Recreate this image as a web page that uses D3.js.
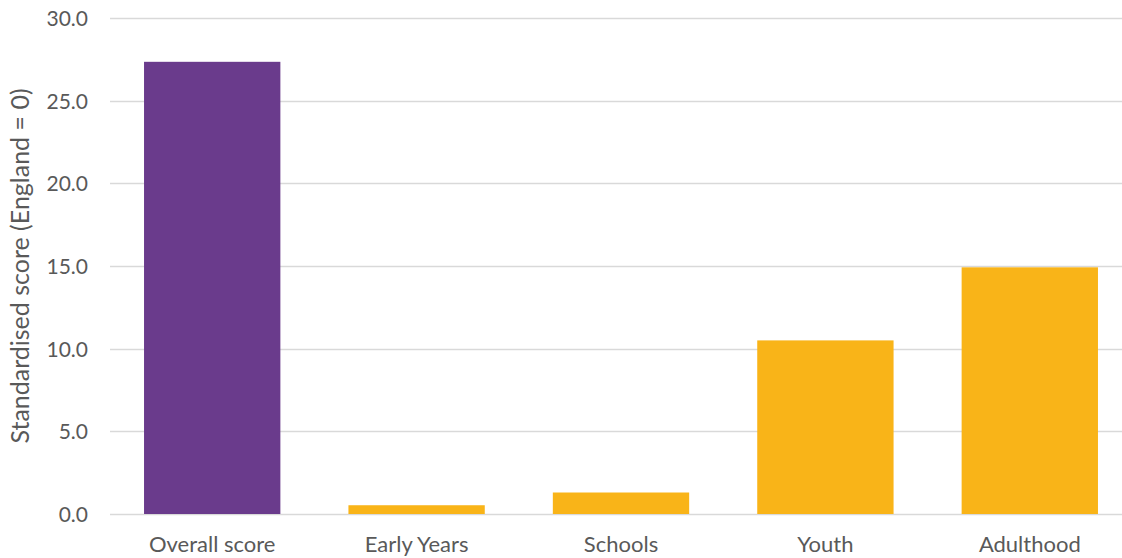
<!DOCTYPE html>
<html>
<head>
<meta charset="utf-8">
<script src="https://cdn.jsdelivr.net/npm/d3@7"></script>
<style>
  body { margin: 0; background: #fff; }
  text { font-family: Lato, "Noto Sans", sans-serif; fill: #595959; }
</style>
</head>
<body>
<div id="graph"></div>
<script>
var categories = ['Overall score', 'Early Years', 'Schools', 'Youth', 'Adulthood']
var scores = [27.35, 0.53, 1.3, 10.5, 14.92]
var barColors = ['#6a3b8c', '#f9b418', '#f9b418', '#f9b418', '#f9b418']
var yTicks = [0, 5, 10, 15, 20, 25, 30]

var width = 1122, height = 558
var m = {top: 18, right: -10, bottom: 44, left: 110}

var svg = d3.select('#graph').append('svg')
    .attr('width', width)
    .attr('height', height)

var x = d3.scaleBand()
    .domain(categories)
    .range([m.left, width - m.right])
    .paddingInner(0.333)
    .paddingOuter(0.1665)

var y = d3.scaleLinear()
    .domain([0, 30])
    .range([height - m.bottom, m.top])

// gridlines
svg.append('g')
    .selectAll('line')
    .data(yTicks)
  .join('line')
    .attr('x1', m.left)
    .attr('x2', width)
    .attr('y1', function(d){ return Math.round(y(d)) + 0.5 })
    .attr('y2', function(d){ return Math.round(y(d)) + 0.5 })
    .attr('stroke', '#d9d9d9')
    .attr('stroke-width', 1.5)

// y tick labels
var yAxis = svg.append('g')
    .attr('transform', 'translate(' + (m.left - 22) + ',0)')
    .call(d3.axisLeft(y).tickValues(yTicks).tickFormat(d3.format('.1f')).tickSize(0))
yAxis.select('.domain').remove()
yAxis.selectAll('text')
    .attr('x', 0)
    .attr('dy', '0.35em')
    .style('font-size', '21px')

// bars
svg.append('g')
    .selectAll('rect')
    .data(scores)
  .join('rect')
    .attr('x', function(d, i){ return x(categories[i]) })
    .attr('width', x.bandwidth())
    .attr('y', function(d){ return y(d) })
    .attr('height', function(d){ return y(0) - y(d) })
    .attr('fill', function(d, i){ return barColors[i] })

// x labels
var xAxis = svg.append('g')
    .attr('transform', 'translate(0,' + y(0) + ')')
    .call(d3.axisBottom(x).tickSize(0))
xAxis.select('.domain').remove()
xAxis.selectAll('text')
    .attr('y', 22)
    .attr('dy', '0.71em')
    .style('font-size', '22px')

// y axis title
svg.append('text')
    .attr('transform', 'translate(29,' + (y(15)) + ') rotate(-90)')
    .attr('text-anchor', 'middle')
    .style('font-size', '25px')
    .text('Standardised score (England = 0)')
</script>
</body>
</html>
